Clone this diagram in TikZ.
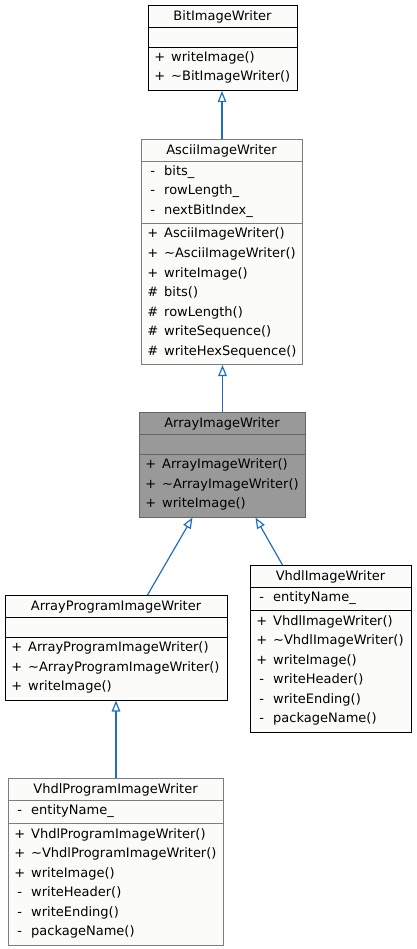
\documentclass[tikz,border=0pt]{standalone}
\usepackage{fontspec}
\setmainfont{DejaVu Sans}
\usetikzlibrary{arrows.meta}
\definecolor{edgeblue}{RGB}{30,110,195}
\definecolor{boxfill}{RGB}{251,252,249}
\definecolor{curfill}{RGB}{153,153,153}
\definecolor{curline}{RGB}{102,102,102}
\definecolor{greyline}{RGB}{125,125,125}

\begin{document}
\begin{tikzpicture}[x=1pt,y=-1pt,
    font=\fontsize{13}{15}\selectfont,
    cls/.style={draw=black,fill=boxfill,line width=1pt,anchor=north west,inner sep=0pt},
    ttl/.style={anchor=base,inner sep=0pt},
    mbr/.style={anchor=base west,inner sep=0pt},
    inh/.style={draw=edgeblue,line width=1.2pt,-{Triangle[open,length=11pt,width=8.5pt]}}]
  \useasboundingbox (0,0) rectangle (416,949);

  \node[cls,minimum width=149pt,minimum height=85pt] (biw) at (148,5) {};
  \draw (148,27) -- (297,27) (148,47) -- (297,47);
  \node[ttl] (biw-t) at (222.5,20.5) {BitImageWriter};
  \foreach \s/\t [count=\i] in {+/writeImage(),+/\textasciitilde BitImageWriter()}
    \node[mbr] (biw-m\i) at (151,{47+14.5+19.5*(\i-1)}) {\makebox[17pt]{\s}\hspace{3pt}\t};

  \node[cls,draw=greyline,minimum width=161pt,minimum height=225pt] (aiw) at (141,139) {};
  \draw[greyline] (141,161) -- (302,161) (141,223.5) -- (302,223.5);
  \node[ttl] (aiw-t) at (221.5,154.5) {AsciiImageWriter};
  \foreach \s/\t [count=\i] in {-/bits\_,-/rowLength\_,-/nextBitIndex\_}
    \node[mbr] (aiw-a\i) at (144,{161+14.5+19.5*(\i-1)}) {\makebox[17pt]{\s}\hspace{3pt}\t};
  \foreach \s/\t [count=\i] in {+/AsciiImageWriter(),+/\textasciitilde AsciiImageWriter(),
      +/writeImage(),\#/bits(),\#/rowLength(),\#/writeSequence(),\#/writeHexSequence()}
    \node[mbr] (aiw-m\i) at (144,{223.5+14.5+19.5*(\i-1)}) {\makebox[17pt]{\s}\hspace{3pt}\t};

  \node[cls,draw=curline,fill=curfill,minimum width=166pt,minimum height=104.5pt] (arw) at (139,412) {};
  \draw[curline] (139,434) -- (305,434) (139,454) -- (305,454);
  \node[ttl] (arw-t) at (222,427.5) {ArrayImageWriter};
  \foreach \s/\t [count=\i] in {+/ArrayImageWriter(),+/\textasciitilde ArrayImageWriter(),+/writeImage()}
    \node[mbr] (arw-m\i) at (142,{454+14.5+19.5*(\i-1)}) {\makebox[17pt]{\s}\hspace{3pt}\t};

  \node[cls,minimum width=222pt,minimum height=104.5pt] (apw) at (5,595) {};
  \draw (5,617) -- (227,617) (5,637) -- (227,637);
  \node[ttl] (apw-t) at (116,610.5) {ArrayProgramImageWriter};
  \foreach \s/\t [count=\i] in {+/ArrayProgramImageWriter(),+/\textasciitilde ArrayProgramImageWriter(),+/writeImage()}
    \node[mbr] (apw-m\i) at (8,{637+14.5+19.5*(\i-1)}) {\makebox[17pt]{\s}\hspace{3pt}\t};

  \node[cls,minimum width=161pt,minimum height=166.5pt] (viw) at (250,565) {};
  \draw (250,587) -- (411,587) (250,610.5) -- (411,610.5);
  \node[ttl] (viw-t) at (330.5,580.5) {VhdlImageWriter};
  \node[mbr] (viw-a1) at (253,601.5) {\makebox[17pt]{-}\hspace{3pt}entityName\_};
  \foreach \s/\t [count=\i] in {+/VhdlImageWriter(),+/\textasciitilde VhdlImageWriter(),+/writeImage(),
      -/writeHeader(),-/writeEnding(),-/packageName()}
    \node[mbr] (viw-m\i) at (253,{610.5+14.5+19.5*(\i-1)}) {\makebox[17pt]{\s}\hspace{3pt}\t};

  \node[cls,draw=greyline,minimum width=215pt,minimum height=166.5pt] (vpw) at (8,778) {};
  \draw[greyline] (8,800) -- (223,800) (8,823.5) -- (223,823.5);
  \node[ttl] (vpw-t) at (115.5,793.5) {VhdlProgramImageWriter};
  \node[mbr] (vpw-a1) at (11,814.5) {\makebox[17pt]{-}\hspace{3pt}entityName\_};
  \foreach \s/\t [count=\i] in {+/VhdlProgramImageWriter(),+/\textasciitilde VhdlProgramImageWriter(),+/writeImage(),
      -/writeHeader(),-/writeEnding(),-/packageName()}
    \node[mbr] (vpw-m\i) at (11,{823.5+14.5+19.5*(\i-1)}) {\makebox[17pt]{\s}\hspace{3pt}\t};

  \draw[inh] (aiw.north) -- (aiw.north |- biw.south);
  \draw[inh] (arw.north) -- (arw.north |- aiw.south);
  \path (apw.north) +(31,0) coordinate (apwo);
  \path (arw.south) +(-30,0) coordinate (arwl);
  \draw[inh] (apwo) -- (arwl);
  \path (viw.north) +(-48.5,0) coordinate (viwo);
  \path (arw.south) +(33,0) coordinate (arwr);
  \draw[inh] (viwo) -- (arwr);
  \draw[inh] (vpw.north) -- (vpw.north |- apw.south);
\end{tikzpicture}
\end{document}
